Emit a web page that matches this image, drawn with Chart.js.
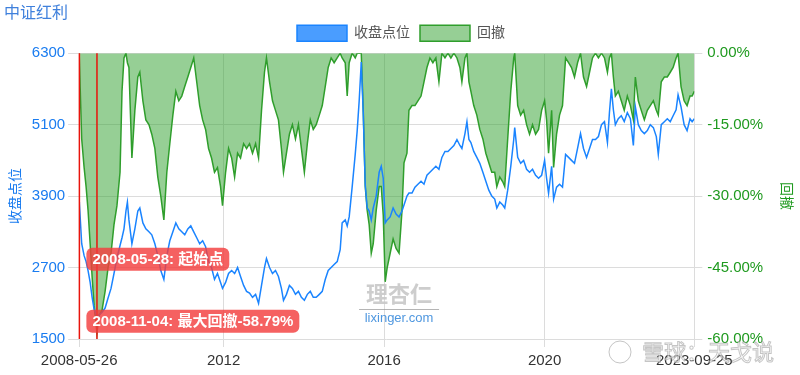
<!DOCTYPE html>
<html>
  <head>
    <meta charset="utf-8">
    <title>中证红利 收盘点位 / 回撤</title>
    <script src="https://cdn.jsdelivr.net/npm/chart.js@4.4.1/dist/chart.umd.min.js"></script>
    <style>
      body { margin: 0; background: #fff; }
      #wrap { width: 800px; height: 375px; position: relative; }
    </style>
  </head>
  <body>
    <div id="wrap"><canvas id="chart"></canvas></div>
    <script type="text/javascript">
      // values, roughly one point a month
      var dates = [
        '2008-05-26','2008-05-28','2008-06-18','2008-07-10','2008-07-28','2008-08-15','2008-09-03','2008-09-21','2008-10-09','2008-11-04',
        '2008-11-23','2008-12-20','2009-01-17','2009-02-13','2009-03-12','2009-04-08','2009-05-05','2009-06-02','2009-06-20','2009-07-08',
        '2009-07-26','2009-08-08','2009-08-22','2009-09-18','2009-10-15','2009-11-11','2009-11-29','2009-12-27','2010-01-23','2010-02-20',
        '2010-03-18','2010-04-15','2010-05-12','2010-06-08','2010-07-06','2010-08-02','2010-08-29','2010-09-26','2010-10-23','2010-11-19',
        '2010-12-16','2011-01-12','2011-02-09','2011-03-08','2011-04-04','2011-05-01','2011-05-28','2011-06-24','2011-07-21','2011-08-17',
        '2011-09-13','2011-10-10','2011-11-06','2011-12-04','2011-12-22','2012-01-19','2012-02-15','2012-03-14','2012-04-10','2012-05-07',
        '2012-06-03','2012-07-01','2012-07-28','2012-08-24','2012-09-20','2012-10-18','2012-11-14','2012-12-11','2013-01-07','2013-01-25',
        '2013-02-22','2013-03-21','2013-04-17','2013-05-14','2013-06-10','2013-06-29','2013-07-26','2013-08-22','2013-09-18','2013-10-16',
        '2013-11-12','2013-12-09','2014-01-05','2014-02-01','2014-02-28','2014-03-27','2014-04-23','2014-05-21','2014-06-17','2014-07-14',
        '2014-08-10','2014-09-06','2014-10-03','2014-10-31','2014-11-27','2014-12-15','2015-01-12','2015-01-30','2015-02-17','2015-03-16',
        '2015-04-13','2015-05-01','2015-05-19','2015-06-07','2015-06-25','2015-07-13','2015-07-31','2015-08-18','2015-09-06','2015-09-24',
        '2015-10-21','2015-11-17','2015-12-06','2015-12-24','2016-01-11','2016-01-29','2016-02-25','2016-03-23','2016-04-19','2016-05-16',
        '2016-06-12','2016-06-30','2016-07-27','2016-08-14','2016-09-11','2016-10-08','2016-11-04','2016-12-02','2016-12-29','2017-01-25',
        '2017-02-21','2017-03-20','2017-04-16','2017-05-14','2017-06-10','2017-07-08','2017-08-04','2017-08-31','2017-09-27','2017-10-25',
        '2017-11-21','2017-12-09','2018-01-06','2018-01-24','2018-02-11','2018-03-01','2018-03-27','2018-04-24','2018-05-21','2018-06-18',
        '2018-07-15','2018-08-11','2018-09-07','2018-10-04','2018-10-23','2018-11-19','2018-12-16','2019-01-03','2019-01-30','2019-02-27',
        '2019-03-26','2019-04-04','2019-05-01','2019-05-28','2019-06-24','2019-07-21','2019-08-17','2019-09-13','2019-10-11','2019-11-07',
        '2019-12-05','2020-01-01','2020-01-19','2020-02-06','2020-03-05','2020-03-23','2020-04-19','2020-05-16','2020-06-12','2020-07-10',
        '2020-08-06','2020-09-02','2020-09-29','2020-10-27','2020-11-23','2020-12-20','2021-01-17','2021-02-13','2021-03-12','2021-04-08',
        '2021-05-05','2021-06-02','2021-06-29','2021-07-26','2021-08-13','2021-08-31','2021-09-18','2021-10-06','2021-11-02','2021-11-29',
        '2021-12-26','2022-01-23','2022-02-20','2022-03-19','2022-04-06','2022-05-03','2022-05-30','2022-06-27','2022-07-24','2022-08-20',
        '2022-09-17','2022-10-14','2022-11-01','2022-11-28','2022-12-26','2023-01-22','2023-02-18','2023-03-16','2023-04-12','2023-04-30',
        '2023-05-27','2023-06-24','2023-07-21','2023-08-17','2023-09-05','2023-09-25'
      ];
      var closeValues = [
        3800,3780,3100,2900,2800,2650,2450,2200,2000,1880,
        1900,1950,2020,2190,2350,2600,2860,3070,3200,3350,
        3650,3800,3500,3100,3350,3650,3700,3450,3350,3300,
        3250,3100,2900,2650,2500,2900,3150,3300,3450,3350,
        3300,3250,3350,3400,3300,3200,3100,3150,3050,2800,
        2700,2500,2600,2450,2350,2450,2600,2650,2600,2700,
        2550,2400,2300,2270,2200,2250,2100,2400,2700,2850,
        2700,2600,2650,2550,2350,2150,2250,2400,2350,2250,
        2300,2200,2150,2250,2300,2200,2200,2250,2300,2500,
        2650,2700,2750,2800,3000,3450,3500,3400,3550,4050,
        4600,5000,5500,6150,5300,4100,3700,3650,3500,3700,
        3900,4300,4400,4200,3450,3500,3550,3700,3600,3550,
        3650,3750,3900,3950,3950,4050,4100,4150,4100,4250,
        4300,4350,4400,4350,4550,4650,4650,4700,4750,4850,
        4750,4700,4950,5150,4850,4800,4650,4550,4450,4300,
        4150,4000,3900,3850,3700,3800,3750,3700,4000,4400,
        4850,5050,4550,4450,4500,4350,4300,4350,4250,4200,
        4250,4500,4200,3950,4400,3850,4050,4100,4050,4600,
        4550,4500,4450,4700,4950,4700,4550,4700,4850,4850,
        4900,5100,5150,4800,5300,5700,5350,5100,5200,5250,
        5150,5300,5200,4750,5400,5100,5000,4950,5000,5100,
        5050,4900,4600,5100,5150,5200,5150,5250,5350,5600,
        5400,5100,5000,5200,5150,5200
      ];
      var drawdownValues = [
        0,0,-18,-24,-28,-33,-40,-47,-53,-58.79,
        -55,-54,-50,-45,-42,-36,-32,-25,-8,-1,
        0,-2,-3,-22,-12,-5,-4,-10,-14,-15,
        -17,-20,-26,-30,-35,-25,-19,-13,-8,-10,
        -9,-7,-5,-3,-1,-6,-11,-14,-16,-20,
        -22,-25,-24,-28,-32,-25,-20,-22,-26,-21,
        -22,-19,-20,-19,-21,-19,-22,-12,-4,-1,
        -6,-10,-12,-14,-20,-25,-21,-17,-15,-18,
        -15,-20,-25,-19,-14,-16,-15,-13,-11,-7,
        -3,-1,-2,-1,0,-1,-2,-9,-2,0,
        -1,0,0,0,-12,-28,-33,-36,-42,-40,
        -33,-28,-28,-34,-48,-45,-42,-39,-41,-42,
        -33,-23,-21,-12,-11,-11,-10,-9,-6,-3,
        -1,-2,-1,-6,0,-1,0,-1,0,-1,
        -3,-6,-1,0,-6,-8,-11,-13,-16,-18,
        -21,-23,-25,-25,-28,-26,-27,-28,-18,-8,
        -1,0,-11,-13,-12,-15,-17,-15,-17,-16,
        -12,-10,-14,-21,-12,-24,-17,-13,-11,-1,
        -2,-3,-5,-2,0,-5,-7,-4,-1,0,
        -1,0,-1,-4,-1,0,-5,-9,-8,-10,
        -12,-9,-11,-14,-5,-10,-12,-14,-12,-11,
        -10,-12,-13,-6,-5,-5,-4,-3,-1,0,
        -7,-10,-11,-9,-9,-8
      ];

      var xTickDates = ['2008-05-26', '2012-01-01', '2016-01-01', '2020-01-01', '2023-09-25'];
      var xTickLabels = ['2008-05-26', '2012', '2016', '2020', '2023-09-25'];
      var closeTicks = [1500, 2700, 3900, 5100, 6300];
      var drawdownTicks = [-60, -45, -30, -15, 0];

      var markerDates = ['2008-05-28', '2008-11-04'];
      var markerLabels = ['2008-05-28: 起始点', '2008-11-04: 最大回撤-58.79%'];
      var markerLabelLevels = [2840, 1800]; // 收盘点位 scale, where the tags sit

      var FONT = '"Liberation Sans", "Noto Sans CJK SC", sans-serif';
      var toMs = function (s) { return Date.parse(s + 'T00:00:00Z'); };

      var markerPlugin = {
        id: 'markers',
        beforeLayout: function (chart) {
          // a little more room under the legend
          var lg = chart.legend;
          if (lg && !lg._roomier) {
            var fit = lg.fit;
            lg.fit = function () { fit.call(this); this.height += 2; };
            lg._roomier = true;
          }
        },
        afterDatasetsDraw: function (chart) {
          var ctx = chart.ctx, area = chart.chartArea;
          var xs = chart.scales.x, ys = chart.scales.yClose;
          ctx.save();
          ctx.strokeStyle = '#e8140c';
          ctx.lineWidth = 1.5;
          markerDates.forEach(function (d) {
            var px = xs.getPixelForValue(toMs(d));
            ctx.beginPath();
            ctx.moveTo(px, area.top);
            ctx.lineTo(px, area.bottom);
            ctx.stroke();
          });
          ctx.font = 'bold 15px ' + FONT;
          ctx.textBaseline = 'middle';
          var left = xs.getPixelForValue(toMs(markerDates[0])) + 7;
          markerLabels.forEach(function (text, i) {
            var cy = ys.getPixelForValue(markerLabelLevels[i]);
            var w = ctx.measureText(text).width + 12, h = 23;
            ctx.fillStyle = 'rgba(243, 62, 62, 0.82)';
            ctx.beginPath();
            ctx.roundRect(left, cy - h / 2, w, h, 6);
            ctx.fill();
            ctx.fillStyle = '#fff';
            ctx.fillText(text, left + 6, cy + 1);
          });
          ctx.restore();
        },
        afterDraw: function (chart) {
          // watermarks
          var ctx = chart.ctx, area = chart.chartArea;
          var cx = area.left + (area.right - area.left) * 0.52;
          ctx.save();
          ctx.textAlign = 'center';
          ctx.textBaseline = 'middle';
          ctx.font = 'bold 22px "Noto Sans CJK SC", sans-serif';
          ctx.fillStyle = 'rgba(200, 200, 200, 0.9)';
          ctx.fillText('理杏仁', cx, area.bottom - 45);
          ctx.fillStyle = 'rgba(150, 150, 150, 0.7)';
          ctx.fillRect(cx - 40, area.bottom - 30, 80, 1);
          ctx.font = '13px ' + FONT;
          ctx.fillStyle = 'rgba(60, 140, 220, 0.9)';
          ctx.fillText('lixinger.com', cx, area.bottom - 21);
          ctx.textAlign = 'left';
          ctx.font = '22px "Noto Sans CJK SC", sans-serif';
          ctx.lineWidth = 1;
          ctx.strokeStyle = 'rgba(140, 140, 140, 0.5)';
          ctx.fillStyle = 'rgba(255, 255, 255, 0.6)';
          ctx.fillText('雪球：天戈说', 642, 352);
          ctx.strokeText('雪球：天戈说', 642, 352);
          ctx.beginPath();
          ctx.arc(620, 352, 11, 0, Math.PI * 2);
          ctx.stroke();
          ctx.restore();
        }
      };

      var ctx = document.getElementById('chart').getContext('2d');
      var chart = new Chart(ctx, {
        type: 'line',
        data: {
          datasets: [{
            label: '收盘点位',
            data: dates.map(function (d, i) { return {x: toMs(d), y: closeValues[i]}; }),
            yAxisID: 'yClose',
            borderColor: '#1a84ff',
            backgroundColor: '#4a9dff',
            borderWidth: 1.5,
            pointRadius: 0,
            fill: false
          }, {
            label: '回撤',
            data: dates.map(function (d, i) { return {x: toMs(d), y: drawdownValues[i]}; }),
            yAxisID: 'yDd',
            borderColor: '#2f9e2c',
            backgroundColor: 'rgba(46, 160, 44, 0.5)',
            borderWidth: 1.5,
            pointRadius: 0,
            fill: 'origin'
          }]
        },
        options: {
          responsive: true,
          maintainAspectRatio: false,
          animation: false,
          layout: {padding: {left: 4, right: 2, top: 2, bottom: 0}},
          plugins: {
            title: {
              display: true, text: '中证红利', align: 'start',
              color: '#3f80dc', font: {family: FONT, size: 16, weight: 'normal'},
              padding: {top: 2, bottom: -8}
            },
            legend: {
              labels: {
                boxWidth: 50, boxHeight: 16, color: '#555', padding: 10,
                font: {family: FONT, size: 14}
              }
            },
            tooltip: {enabled: false}
          },
          scales: {
            x: {
              type: 'linear',
              min: toMs(dates[0]),
              max: toMs(dates[dates.length - 1]),
              afterBuildTicks: function (scale) {
                scale.ticks = xTickDates.map(function (d) { return {value: toMs(d)}; });
              },
              ticks: {
                autoSkip: false, maxRotation: 0, color: '#333', padding: 5,
                font: {family: FONT, size: 15},
                callback: function (v, i) { return xTickLabels[i]; }
              },
              grid: {color: '#dcdcdc'},
              border: {display: false}
            },
            yClose: {
              position: 'left',
              min: closeTicks[0],
              max: closeTicks[closeTicks.length - 1],
              afterBuildTicks: function (scale) {
                scale.ticks = closeTicks.map(function (v) { return {value: v}; });
              },
              ticks: {
                color: '#1a7cf0', font: {family: FONT, size: 15},
                callback: function (v) { return String(v); }
              },
              grid: {color: '#dcdcdc', tickLength: 11},
              border: {display: false},
              title: {display: true, text: '收盘点位', color: '#1a7cf0', font: {family: FONT, size: 14}}
            },
            yDd: {
              position: 'right',
              min: drawdownTicks[0],
              max: drawdownTicks[drawdownTicks.length - 1],
              afterBuildTicks: function (scale) {
                scale.ticks = drawdownTicks.map(function (v) { return {value: v}; });
              },
              afterFit: function (scale) { scale.width += 5; },
              ticks: {
                color: '#1f9a1f', font: {family: FONT, size: 15}, padding: 5,
                callback: function (v) { return v.toFixed(2) + '%'; }
              },
              grid: {drawOnChartArea: false, color: '#dcdcdc'},
              border: {display: false},
              title: {display: true, text: '回撤', color: '#1f9a1f', font: {family: FONT, size: 14}}
            }
          }
        },
        plugins: [markerPlugin]
      });
    </script>
  </body>
</html>
